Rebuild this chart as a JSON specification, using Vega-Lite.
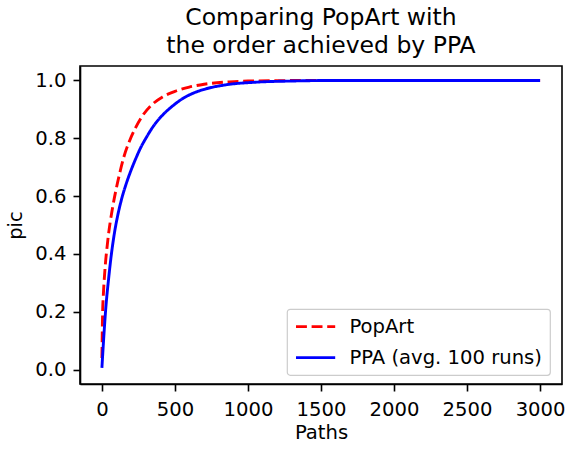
{
  "$schema": "https://vega.github.io/schema/vega-lite/v6.json",
  "width": 482,
  "height": 318,
  "autosize": {"type": "none"},
  "padding": {"left": 80, "top": 66, "right": 4, "bottom": 65},
  "background": "white",
  "title": {
    "text": ["Comparing PopArt with", "the order achieved by PPA"],
    "font": "DejaVu Sans",
    "fontSize": 23.5,
    "fontWeight": "normal",
    "color": "black",
    "lineHeight": 28.2,
    "anchor": "middle",
    "baseline": "bottom",
    "offset": 12,
    "dy": 28
  },
  "config": {
    "font": "DejaVu Sans",
    "view": {"stroke": "black", "strokeWidth": 1.6},
    "axis": {
      "grid": false,
      "domainColor": "black",
      "domainWidth": 1.6,
      "tickColor": "black",
      "tickWidth": 1.6,
      "tickSize": 7,
      "labelFont": "DejaVu Sans",
      "labelFontSize": 19.6,
      "labelColor": "black",
      "titleFont": "DejaVu Sans",
      "titleFontSize": 19.6,
      "titleFontWeight": "normal",
      "titleColor": "black"
    },
    "legend": {
      "orient": "none",
      "legendX": 207,
      "legendY": 243,
      "title": null,
      "padding": 7.8,
      "strokeColor": "#cccccc",
      "strokeWidth": 1.2,
      "cornerRadius": 3,
      "fillColor": "rgba(255,255,255,0.8)",
      "labelFont": "DejaVu Sans",
      "labelFontSize": 19.6,
      "labelColor": "black",
      "labelLimit": 400,
      "symbolType": "M-2.8,0H2.8",
      "symbolSize": 196,
      "symbolStrokeWidth": 2.9,
      "symbolOffset": 11,
      "labelOffset": 24,
      "rowPadding": 10
    }
  },
  "data": {
    "values": [
      {"paths": 0, "pic": 0.04, "series": "PopArt"},
      {"paths": 5, "pic": 0.2, "series": "PopArt"},
      {"paths": 10, "pic": 0.26, "series": "PopArt"},
      {"paths": 20, "pic": 0.34, "series": "PopArt"},
      {"paths": 40, "pic": 0.445, "series": "PopArt"},
      {"paths": 73, "pic": 0.56, "series": "PopArt"},
      {"paths": 100, "pic": 0.63, "series": "PopArt"},
      {"paths": 119, "pic": 0.673, "series": "PopArt"},
      {"paths": 150, "pic": 0.735, "series": "PopArt"},
      {"paths": 187, "pic": 0.788, "series": "PopArt"},
      {"paths": 230, "pic": 0.836, "series": "PopArt"},
      {"paths": 278, "pic": 0.878, "series": "PopArt"},
      {"paths": 340, "pic": 0.915, "series": "PopArt"},
      {"paths": 415, "pic": 0.943, "series": "PopArt"},
      {"paths": 500, "pic": 0.962, "series": "PopArt"},
      {"paths": 598, "pic": 0.977, "series": "PopArt"},
      {"paths": 700, "pic": 0.987, "series": "PopArt"},
      {"paths": 871, "pic": 0.995, "series": "PopArt"},
      {"paths": 1000, "pic": 0.998, "series": "PopArt"},
      {"paths": 1500, "pic": 1.0, "series": "PopArt"},
      {"paths": 2000, "pic": 1.0, "series": "PopArt"},
      {"paths": 2500, "pic": 1.0, "series": "PopArt"},
      {"paths": 3000, "pic": 1.0, "series": "PopArt"},
      {"paths": 0, "pic": 0.006, "series": "PPA (avg. 100 runs)"},
      {"paths": 10, "pic": 0.09, "series": "PPA (avg. 100 runs)"},
      {"paths": 27, "pic": 0.215, "series": "PPA (avg. 100 runs)"},
      {"paths": 45, "pic": 0.31, "series": "PPA (avg. 100 runs)"},
      {"paths": 62, "pic": 0.387, "series": "PPA (avg. 100 runs)"},
      {"paths": 85, "pic": 0.47, "series": "PPA (avg. 100 runs)"},
      {"paths": 107, "pic": 0.53, "series": "PPA (avg. 100 runs)"},
      {"paths": 135, "pic": 0.59, "series": "PPA (avg. 100 runs)"},
      {"paths": 164, "pic": 0.639, "series": "PPA (avg. 100 runs)"},
      {"paths": 200, "pic": 0.69, "series": "PPA (avg. 100 runs)"},
      {"paths": 233, "pic": 0.731, "series": "PPA (avg. 100 runs)"},
      {"paths": 265, "pic": 0.767, "series": "PPA (avg. 100 runs)"},
      {"paths": 301, "pic": 0.8, "series": "PPA (avg. 100 runs)"},
      {"paths": 350, "pic": 0.84, "series": "PPA (avg. 100 runs)"},
      {"paths": 415, "pic": 0.88, "series": "PPA (avg. 100 runs)"},
      {"paths": 480, "pic": 0.91, "series": "PPA (avg. 100 runs)"},
      {"paths": 552, "pic": 0.937, "series": "PPA (avg. 100 runs)"},
      {"paths": 630, "pic": 0.957, "series": "PPA (avg. 100 runs)"},
      {"paths": 712, "pic": 0.971, "series": "PPA (avg. 100 runs)"},
      {"paths": 850, "pic": 0.985, "series": "PPA (avg. 100 runs)"},
      {"paths": 1054, "pic": 0.994, "series": "PPA (avg. 100 runs)"},
      {"paths": 1300, "pic": 0.998, "series": "PPA (avg. 100 runs)"},
      {"paths": 1600, "pic": 1.0, "series": "PPA (avg. 100 runs)"},
      {"paths": 2000, "pic": 1.0, "series": "PPA (avg. 100 runs)"},
      {"paths": 2500, "pic": 1.0, "series": "PPA (avg. 100 runs)"},
      {"paths": 3000, "pic": 1.0, "series": "PPA (avg. 100 runs)"}
    ]
  },
  "mark": {"type": "line", "strokeWidth": 2.9, "clip": true, "interpolate": "monotone"},
  "encoding": {
    "x": {
      "field": "paths",
      "type": "quantitative",
      "scale": {"domain": [-150, 3150], "nice": false, "zero": false},
      "axis": {
        "title": "Paths",
        "values": [0, 500, 1000, 1500, 2000, 2500, 3000],
        "format": "d",
        "labelPadding": 9,
        "titlePadding": 5
      }
    },
    "y": {
      "field": "pic",
      "type": "quantitative",
      "scale": {"domain": [-0.05, 1.05], "nice": false, "zero": false},
      "axis": {
        "title": "pic",
        "values": [0, 0.2, 0.4, 0.6, 0.8, 1.0],
        "format": ".1f",
        "labelPadding": 7,
        "titlePadding": 9
      }
    },
    "color": {
      "field": "series",
      "type": "nominal",
      "sort": ["PopArt", "PPA (avg. 100 runs)"],
      "scale": {"domain": ["PopArt", "PPA (avg. 100 runs)"], "range": ["#ff0000", "#0000ff"]}
    },
    "strokeDash": {
      "field": "series",
      "type": "nominal",
      "sort": ["PopArt", "PPA (avg. 100 runs)"],
      "scale": {"domain": ["PopArt", "PPA (avg. 100 runs)"], "range": [[10.9, 4.7], [1, 0]]}
    }
  }
}
